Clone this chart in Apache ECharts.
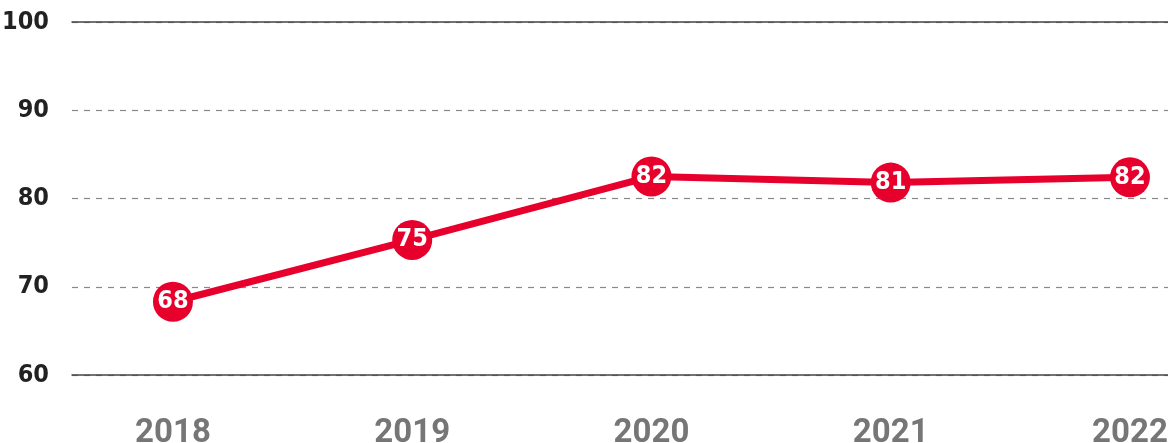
<!DOCTYPE html>
<html lang="en">
<head>
  <meta charset="UTF-8">
  <title>Line chart 2018-2022</title>
  <style>
    html, body { margin: 0; padding: 0; background: #fff; }
    #main { width: 1168px; height: 443px; }
  </style>
</head>
<body>
<div id="main"></div>
<script src="https://cdn.jsdelivr.net/npm/echarts@6/dist/echarts.min.js"></script>
<script>
  // data
  var years = [2018, 2019, 2020, 2021, 2022];
  var scores = [68.3, 75.3, 82.5, 81.8, 82.4];
  var yTicks = [60, 70, 80, 90, 100];

  var red = '#e8002d';
  var narrow = '"DejaVu Sans Condensed", "Liberation Sans Narrow", "Noto Sans", sans-serif';

  var myChart = echarts.init(document.getElementById('main'));
  var options = {
    animation: false,
    grid: { left: 72, right: 0, top: 22, bottom: 68, outerBoundsMode: 'none', containLabel: false },
    xAxis: [
      {
        type: 'value',
        min: 2017.578,
        max: 2022.159,
        splitLine: { show: false },
        axisTick: { show: false },
        axisLine: { show: true, lineStyle: { color: '#444', width: 1.5 } },
        axisLabel: {
          customValues: years,
          formatter: function (v) { return String(v); },
          color: '#767676',
          fontFamily: 'Roboto, sans-serif',
          fontWeight: 'bold',
          fontSize: 33,
          margin: 42
        }
      },
      {
        // solid line along the top (100)
        type: 'value',
        position: 'top',
        min: 2017.578,
        max: 2022.159,
        splitLine: { show: false },
        axisTick: { show: false },
        axisLabel: { show: false },
        axisLine: { show: true, lineStyle: { color: '#444', width: 1.5 } }
      }
    ],
    yAxis: {
      type: 'value',
      min: yTicks[0],
      max: yTicks[yTicks.length - 1],
      interval: 10,
      axisLine: { show: false },
      axisTick: { show: false },
      axisLabel: {
        color: '#222',
        fontFamily: narrow,
        fontWeight: 'bold',
        fontSize: 25,
        margin: 23
      },
      splitLine: {
        show: true,
        lineStyle: { color: '#888', type: [6, 6], width: 1.2 }
      }
    },
    series: [
      {
        type: 'line',
        data: years.map(function (y, i) { return [y, scores[i]]; }),
        symbol: 'circle',
        symbolSize: 40,
        itemStyle: { color: red },
        lineStyle: { color: red, width: 7 },
        label: {
          show: true,
          position: 'inside',
          color: '#fff',
          fontFamily: narrow,
          fontWeight: 'bold',
          fontSize: 25,
          formatter: function (p) { return String(Math.floor(p.value[1])); }
        },
        z: 3
      }
    ]
  };

  myChart.setOption(options);
  window.addEventListener('resize', function () {
    myChart.resize();
  });
</script>
</body>
</html>
